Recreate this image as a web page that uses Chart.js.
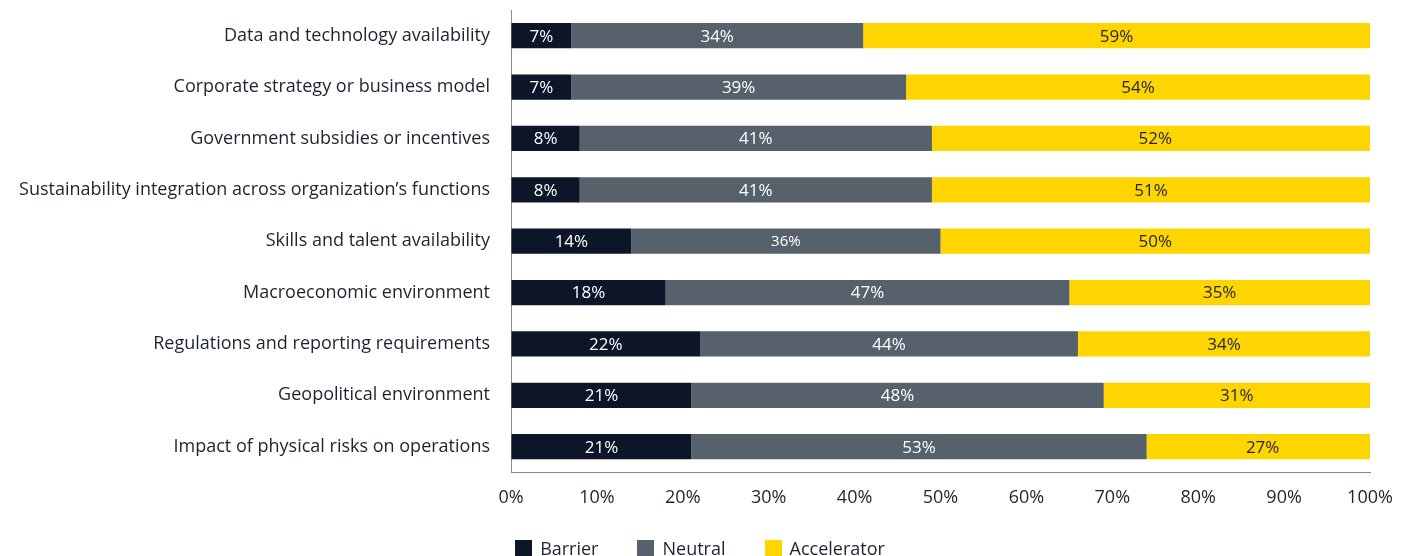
<!DOCTYPE html>
<html lang="en">
<head>
    <meta charset="UTF-8">
    <title>Barriers and accelerators</title>
    <script src="https://cdn.jsdelivr.net/npm/chart.js"></script>
    <style>
        body {
            margin: 0;
            background: #fff;
            font-family: "Open Sans", sans-serif;
        }
        #wrap {
            position: relative;
            width: 1410px;
            height: 556px;
        }
        #legend {
            position: absolute;
            left: -5px;
            top: 538px;
            width: 1410px;
            display: flex;
            justify-content: center;
            gap: 39px;
            font-size: 18px;
            color: #1e2331;
            line-height: 20px;
        }
        .item { display: flex; align-items: center; }
        .box { width: 17px; height: 17px; margin-right: 8px; }
    </style>
</head>
<body>
    <div id="wrap">
        <canvas id="chart" width="1410" height="556"></canvas>
        <div id="legend"></div>
    </div>

    <script>
        const categories = [
            'Data and technology availability',
            'Corporate strategy or business model',
            'Government subsidies or incentives',
            'Sustainability integration across organization\u2019s functions',
            'Skills and talent availability',
            'Macroeconomic environment',
            'Regulations and reporting requirements',
            'Geopolitical environment',
            'Impact of physical risks on operations'
        ];
        const barrier = [7, 7, 8, 8, 14, 18, 22, 21, 21];
        const neutral = [34, 39, 41, 41, 36, 47, 44, 48, 53];
        const accelerator = [59, 54, 52, 51, 50, 35, 34, 31, 27];
        const seriesNames = ['Barrier', 'Neutral', 'Accelerator'];
        const colors = ['#0c1628', '#56616c', '#ffd500'];
        const labelColors = ['#ffffff', '#ffffff', '#1e2331'];

        const textColor = '#1e2331';
        const fontFamily = '"Open Sans", sans-serif';

        // draws the percentage in the middle of each segment
        const segmentLabels = {
            id: 'segmentLabels',
            afterDatasetsDraw(chart) {
                const ctx = chart.ctx;
                ctx.save();
                ctx.textAlign = 'center';
                ctx.textBaseline = 'middle';
                chart.data.datasets.forEach((ds, i) => {
                    const meta = chart.getDatasetMeta(i);
                    meta.data.forEach((bar, j) => {
                        const size = (i === 1 && j === 4) ? 15 : 17;
                        ctx.font = size + 'px ' + fontFamily;
                        ctx.fillStyle = labelColors[i];
                        ctx.fillText(ds.data[j] + '%', (bar.x + bar.base) / 2, bar.y + 1);
                    });
                });
                ctx.restore();
            }
        };

        const ctx = document.getElementById('chart').getContext('2d');
        new Chart(ctx, {
            type: 'bar',
            data: {
                labels: categories,
                datasets: [barrier, neutral, accelerator].map((d, i) => ({
                    label: seriesNames[i],
                    data: d,
                    backgroundColor: colors[i],
                    barPercentage: 0.49,
                    categoryPercentage: 1
                }))
            },
            options: {
                indexAxis: 'y',
                responsive: false,
                animation: false,
                layout: { padding: { top: 10, right: 40, bottom: 32, left: 0 } },
                plugins: {
                    legend: { display: false },
                    tooltip: { enabled: false }
                },
                scales: {
                    x: {
                        stacked: true,
                        min: 0,
                        max: 100,
                        grid: { display: true, drawOnChartArea: false, drawTicks: false },
                        border: { display: true, color: '#8a8a8a', width: 1 },
                        ticks: {
                            stepSize: 10,
                            padding: 15,
                            color: textColor,
                            font: { family: fontFamily, size: 18 },
                            callback: v => v + '%'
                        }
                    },
                    y: {
                        stacked: true,
                        grid: { display: true, drawOnChartArea: false, drawTicks: false },
                        border: { display: true, color: '#8a8a8a', width: 1 },
                        ticks: {
                            padding: 21,
                            color: textColor,
                            font: { family: fontFamily, size: 18 }
                        },
                        afterFit: scale => {
                            scale.width = 511;
                            scale.paddingTop = 0;
                            scale.paddingBottom = 0;
                        }
                    }
                }
            },
            plugins: [segmentLabels]
        });

        const legend = document.getElementById('legend');
        seriesNames.forEach((name, i) => {
            const item = document.createElement('div');
            item.className = 'item';
            item.innerHTML = '<span class="box" style="background:' + colors[i] + '"></span>' + name;
            legend.appendChild(item);
        });
    </script>
</body>
</html>
